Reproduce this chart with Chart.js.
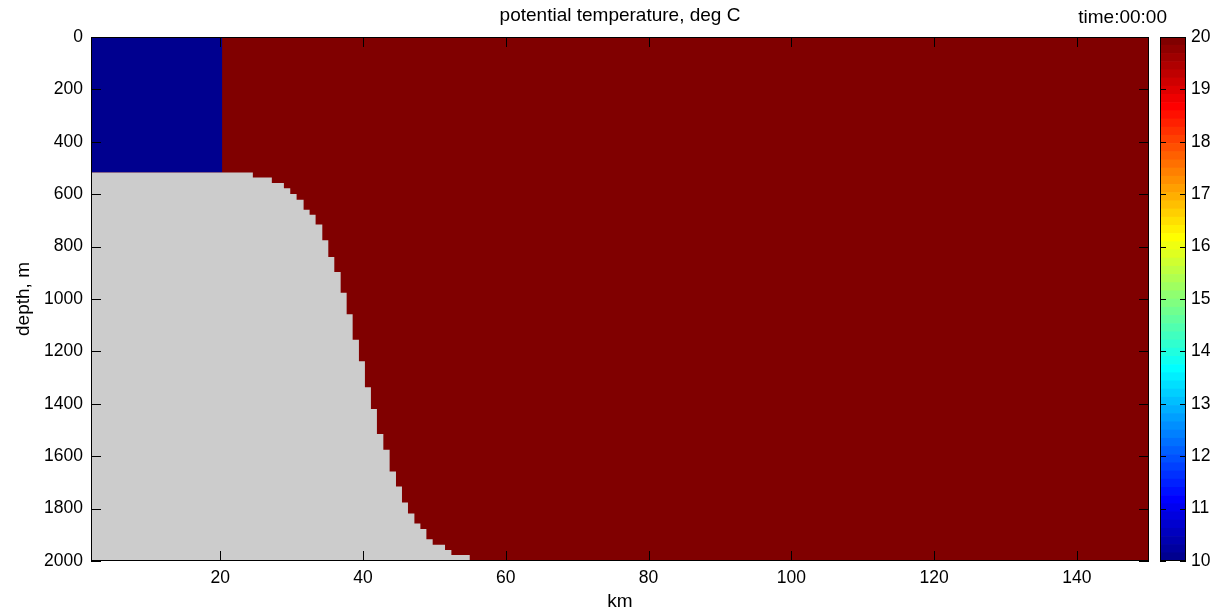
<!DOCTYPE html>
<html>
<head>
<meta charset="utf-8">
<script src="https://cdn.jsdelivr.net/npm/chart.js@4.4.1/dist/chart.umd.min.js"></script>
<style>
  html, body { margin: 0; padding: 0; background: #fff; }
  #wrap { position: relative; width: 1215px; height: 611px; }
  #main { position: absolute; left: 0; top: 0; }
  #cbar { position: absolute; left: 1150px; top: 0; }
</style>
</head>
<body>
<div id="wrap">
  <canvas id="main" width="1215" height="611"></canvas>
  <canvas id="cbar" width="65" height="611"></canvas>
</div>
<script>
console.log('section plot: start');

// axes
const kmRange = [1.9, 150.1];
const depthRange = [0, 2000];
const kmTicks = [20, 40, 60, 80, 100, 120, 140];
const depthTicks = [0, 200, 400, 600, 800, 1000, 1200, 1400, 1600, 1800, 2000];
const tempRange = [10, 20];
const tempTicks = [10, 11, 12, 13, 14, 15, 16, 17, 18, 19, 20];

// initial state: cold pool over the shelf, warm water offshore
const coldTemp = 10;
const warmTemp = 20;
const coldPoolEdgeKm = 20.3;
const coldPoolBottom = 517;

// sea floor (step left edge in km, floor depth in m)
const floorKm = [1.9, 24.57, 27.23, 28.92, 29.81, 30.70, 31.68, 32.52, 33.36, 34.30,
  35.14, 35.98, 36.87, 37.71, 38.55, 39.43, 40.27, 41.11, 41.95, 42.85,
  43.73, 44.62, 45.46, 46.30, 47.20, 48.04, 48.88, 49.76, 51.49, 52.38, 54.95];
const floorDepth = [517, 536, 557, 577, 599, 621, 659, 678, 716, 776,
  840, 897, 976, 1058, 1156, 1238, 1337, 1420, 1515, 1575,
  1658, 1716, 1777, 1819, 1857, 1878, 1917, 1938, 1958, 1977, 2000];

// matlab jet, 64 colours
const nColors = 64;
function jet(i) { // i = 1..64
  const ch = (a, c) => Math.max(0, Math.min(1, (i - a) / 16, (c - i) / 16));
  const r = Math.round(ch(24, 72) * 255);
  const g = Math.round(ch(8, 56) * 255);
  const b = Math.round(ch(-8, 40) * 255);
  return `rgb(${r},${g},${b})`;
}
function tempColor(t) {
  const f = (t - tempRange[0]) / (tempRange[1] - tempRange[0]);
  const i = Math.min(nColors, Math.max(1, Math.floor(f * nColors) + 1));
  return jet(i);
}

const textFont = 'Liberation Sans, Arial, Helvetica, sans-serif';
const plainNumber = v => String(v);

// inner ticks on every side + box, like matlab
const boxTicks = {
  id: 'boxTicks',
  afterDatasetsDraw(chart, args, opts) {
    const {ctx, chartArea: a} = chart;
    const L = opts.len || 8;
    ctx.save();
    ctx.strokeStyle = opts.color || '#000';
    ctx.lineWidth = 1;
    ctx.beginPath();
    Object.values(chart.scales).forEach(s => {
      if (!s.options.display) return;
      s.ticks.forEach(t => {
        const p = Math.round(s.getPixelForValue(t.value)) + 0.5;
        if (s.isHorizontal()) {
          ctx.moveTo(p, a.bottom); ctx.lineTo(p, a.bottom - L);
          ctx.moveTo(p, a.top); ctx.lineTo(p, a.top + L);
        } else {
          ctx.moveTo(a.left, p); ctx.lineTo(a.left + L, p);
          ctx.moveTo(a.right, p); ctx.lineTo(a.right - L, p);
        }
      });
    });
    ctx.stroke();
    ctx.strokeRect(a.left + 0.5, a.top + 0.5, a.right - a.left - 1, a.bottom - a.top - 1);
    ctx.restore();
  }
};

const timeLabel = {
  id: 'timeLabel',
  afterDraw(chart, args, opts) {
    const ctx = chart.ctx;
    ctx.save();
    ctx.font = `19px ${textFont}`;
    ctx.fillStyle = '#000';
    ctx.textAlign = 'right';
    ctx.textBaseline = 'alphabetic';
    ctx.fillText(opts.text, 1167, 23);
    ctx.restore();
  }
};

const floorPoints = floorKm.map((x, i) => ({x: x, y: floorDepth[i]}));
floorPoints.push({x: kmRange[1], y: depthRange[1]});

const mainChart = new Chart(document.getElementById('main'), {
  type: 'line',
  data: {
    datasets: [
      {
        label: 'land',
        data: floorPoints,
        stepped: 'before',
        borderWidth: 0,
        pointRadius: 0,
        backgroundColor: '#cccccc',
        fill: {value: depthRange[1]}
      },
      {
        label: 'cold pool',
        data: [{x: kmRange[0], y: coldPoolBottom}, {x: coldPoolEdgeKm, y: coldPoolBottom}],
        borderWidth: 0,
        pointRadius: 0,
        backgroundColor: tempColor(coldTemp),
        fill: {value: depthRange[0]}
      },
      {
        label: 'warm water',
        data: [{x: kmRange[0], y: depthRange[1]}, {x: kmRange[1], y: depthRange[1]}],
        borderWidth: 0,
        pointRadius: 0,
        backgroundColor: tempColor(warmTemp),
        fill: {value: depthRange[0]}
      }
    ]
  },
  options: {
    responsive: false,
    animation: false,
    events: [],
    layout: {padding: {left: 0, right: 66, top: 0, bottom: 0}},
    scales: {
      x: {
        type: 'linear',
        min: kmRange[0],
        max: kmRange[1],
        grid: {display: false, drawTicks: false},
        border: {display: false},
        afterBuildTicks: s => { s.ticks = kmTicks.map(v => ({value: v})); },
        afterFit: s => { s.height = 50; },
        ticks: {color: '#000', padding: 7, maxRotation: 0, callback: plainNumber,
          font: {family: textFont, size: 17.5}},
        title: {display: true, text: 'km', color: '#000', padding: 0,
          font: {family: textFont, size: 19, lineHeight: '19px'}}
      },
      y: {
        type: 'linear',
        reverse: true,
        min: depthRange[0],
        max: depthRange[1],
        grid: {display: false, drawTicks: false},
        border: {display: false},
        afterBuildTicks: s => { s.ticks = depthTicks.map(v => ({value: v})); },
        afterFit: s => { s.width = 91; },
        ticks: {color: '#000', padding: 8, callback: plainNumber,
          font: {family: textFont, size: 17.5}},
        title: {display: true, text: 'depth, m', color: '#000', padding: {top: 14, bottom: 0},
          font: {family: textFont, size: 19, lineHeight: '19px'}}
      }
    },
    plugins: {
      legend: {display: false},
      tooltip: {enabled: false},
      title: {
        display: true,
        fullSize: false,
        text: 'potential temperature, deg C',
        color: '#000',
        padding: {top: 5, bottom: 10},
        font: {family: textFont, size: 19, weight: 'normal', lineHeight: '22px'}
      },
      boxTicks: {len: 10},
      timeLabel: {text: 'time:00:00'}
    }
  },
  plugins: [boxTicks, timeLabel]
});

// colour bar: one floating bar per colour of the map
const cbarSets = [];
for (let i = 1; i <= nColors; i++) {
  const step = (tempRange[1] - tempRange[0]) / nColors;
  cbarSets.push({
    data: [[tempRange[0] + (i - 1) * step, tempRange[0] + i * step]],
    backgroundColor: jet(i),
    borderWidth: 0,
    categoryPercentage: 1,
    barPercentage: 1,
    grouped: false
  });
}

const cbarChart = new Chart(document.getElementById('cbar'), {
  type: 'bar',
  data: {labels: ['t'], datasets: cbarSets},
  options: {
    responsive: false,
    animation: false,
    events: [],
    layout: {padding: {left: 10, right: 0, top: 37, bottom: 50}},
    scales: {
      x: {display: false},
      y: {
        position: 'right',
        min: tempRange[0],
        max: tempRange[1],
        grid: {display: false, drawTicks: false},
        border: {display: false},
        afterBuildTicks: s => { s.ticks = tempTicks.map(v => ({value: v})); },
        afterFit: s => { s.width = 29; },
        ticks: {color: '#000', padding: 5, callback: plainNumber,
          font: {family: textFont, size: 17.5}}
      }
    },
    plugins: {
      legend: {display: false},
      tooltip: {enabled: false},
      boxTicks: {len: 6}
    }
  },
  plugins: [boxTicks]
});

console.log('section plot: done', mainChart.chartArea, cbarChart.chartArea);
</script>
</body>
</html>
